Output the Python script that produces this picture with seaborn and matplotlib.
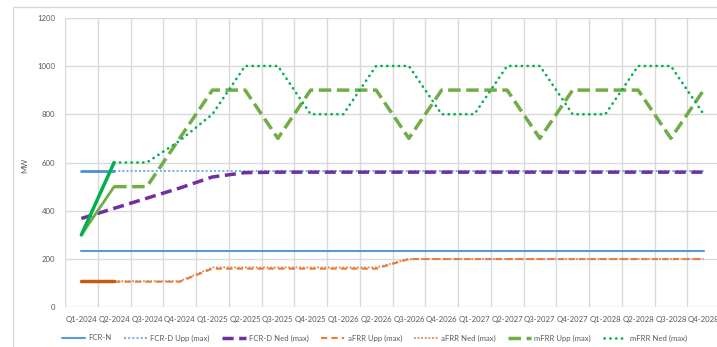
import numpy as np
import pandas as pd
import matplotlib
matplotlib.use("Agg")
import matplotlib.pyplot as plt
from matplotlib import font_manager
from matplotlib.patches import Rectangle
import seaborn as sns

nan = np.nan

quarters = ["Q1-2024", "Q2-2024", "Q3-2024", "Q4-2024",
            "Q1-2025", "Q2-2025", "Q3-2025", "Q4-2025",
            "Q1-2026", "Q2-2026", "Q3-2026", "Q4-2026",
            "Q1-2027", "Q2-2027", "Q3-2027", "Q4-2027",
            "Q1-2028", "Q2-2028", "Q3-2028", "Q4-2028"]

# Forecast series (MW per quarter)
fcr_n = [233, 233, 233, 233, 233, 233, 233, 233, 233, 233,
         233, 233, 233, 233, 233, 233, 233, 233, 233, 233]
fcr_d_upp = [nan, 566, 566, 566, 566, 566, 566, 566, 566, 566,
             566, 566, 566, 566, 566, 566, 566, 566, 566, 566]
fcr_d_ned = [368, 410, 452, 494, 540, 558, 560, 560, 560, 560,
             560, 560, 560, 560, 560, 560, 560, 560, 560, 560]
afrr_upp = [nan, 106, 106, 106, 160, 160, 160, 160, 160, 160,
            200, 200, 200, 200, 200, 200, 200, 200, 200, 200]
afrr_ned = [nan, 108, 108, 108, 165, 165, 165, 165, 165, 165,
            200, 200, 200, 200, 200, 200, 200, 200, 200, 200]
mfrr_upp = [nan, 500, 500, 700, 900, 900, 700, 900, 900, 900,
            700, 900, 900, 900, 700, 900, 900, 900, 700, 900]
mfrr_ned = [nan, 600, 600, 690, 800, 1000, 1000, 800, 800, 1000,
            1000, 800, 800, 1000, 1000, 800, 800, 1000, 1000, 800]

# Outcome so far (Q1-2024 .. Q2-2024)
hist_fcr_d_upp = [566, 566]
hist_afrr = [107, 107]
hist_mfrr_upp = [300, 500]
hist_mfrr_ned = [300, 600]

sns.set_theme(style="white")

# A narrow sans face keeps the quarter labels apart; fall back to Lato if absent
installed = {f.name for f in font_manager.fontManager.ttflist}
if "Liberation Sans Narrow" in installed:
    plt.rcParams["font.family"] = ["Liberation Sans Narrow", "DejaVu Sans"]
    FS = 6.6
else:
    plt.rcParams["font.family"] = ["Lato", "DejaVu Sans"]
    FS = 5.6

W, H = 717, 347
fig = plt.figure(figsize=(W / 100, H / 100), dpi=100)
ax = fig.add_axes([65 / W, (H - 307.3) / H, 655 / W, 289.6 / H])

pos = np.arange(len(quarters))

series = [
    ("FCR-N", fcr_n, dict(color="#5B9BD5", lw=1.5, linestyle="-")),
    ("FCR-D Upp (max)", fcr_d_upp, dict(color="#7DB3E3", lw=1.5, linestyle=(0, (1, 1)))),
    ("FCR-D Ned (max)", fcr_d_ned, dict(color="#7030A0", lw=2.5, linestyle=(0, (3.2, 1.6)))),
    ("aFRR Upp (max)", afrr_upp, dict(color="#ED7D31", lw=1.5, linestyle=(0, (3, 2)))),
    ("aFRR Ned (max)", afrr_ned, dict(color="#D0875A", lw=1.3, linestyle=(0, (1, 1)))),
    ("mFRR Upp (max)", mfrr_upp, dict(color="#70AD47", lw=2.5, linestyle=(0, (3.6, 1.6)))),
    ("mFRR Ned (max)", mfrr_ned, dict(color="#00B050", lw=1.9, linestyle=(0, (0.1, 2.1)),
                                      dash_capstyle="round")),
]

for name, vals, style in series:
    df = pd.DataFrame({"q": pos, "MW": vals}).dropna()
    sns.lineplot(data=df, x="q", y="MW", ax=ax, label=name, legend=False, **style)

history = [
    (hist_fcr_d_upp, dict(color="#4A90D2", lw=2.0)),
    (hist_afrr, dict(color="#C55A11", lw=2.5)),
    (hist_mfrr_upp, dict(color="#70AD47", lw=2.0)),
    (hist_mfrr_ned, dict(color="#00B050", lw=2.5)),
]
for vals, style in history:
    df = pd.DataFrame({"q": pos[:len(vals)], "MW": vals})
    sns.lineplot(data=df, x="q", y="MW", ax=ax, legend=False, **style)

ax.set_xlim(-0.5, len(quarters) - 0.5)
ax.set_ylim(0, 1200)
ax.set_yticks(np.arange(0, 1201, 200))
ax.set_xticks(pos)
ax.set_xticklabels(quarters)
ax.set_xticks(np.arange(-0.5, len(quarters), 1), minor=True)
ax.tick_params(axis="both", which="both", length=0, labelsize=FS, colors="#595959")
ax.tick_params(axis="x", pad=6)
ax.tick_params(axis="y", pad=7)
ax.grid(which="major", axis="y", color="#D9D9D9", lw=1)
ax.grid(which="minor", axis="x", color="#D9D9D9", lw=1)
ax.grid(which="major", axis="x", visible=False)
for s in ax.spines.values():
    s.set_visible(False)

ax.set_xlabel("")
ax.set_ylabel("MW", fontsize=FS, color="#595959")
ax.yaxis.set_label_coords((28 - 65) / 655, 0.49)

handles, labels = ax.get_legend_handles_labels()
fig.legend(handles, labels, loc="center", bbox_to_anchor=(374.5 / W, (H - 338) / H),
           ncol=7, frameon=False, fontsize=FS, handlelength=3.0, handletextpad=0.4,
           columnspacing=1.6, labelcolor="#595959")

fig.patches.append(Rectangle((12.5 / W, -0.1), 2, (H - 7) / H + 0.1, transform=fig.transFigure,
                             fill=False, edgecolor="#D9D9D9", lw=1))

fig.savefig("out.png", dpi=100, facecolor="white")
